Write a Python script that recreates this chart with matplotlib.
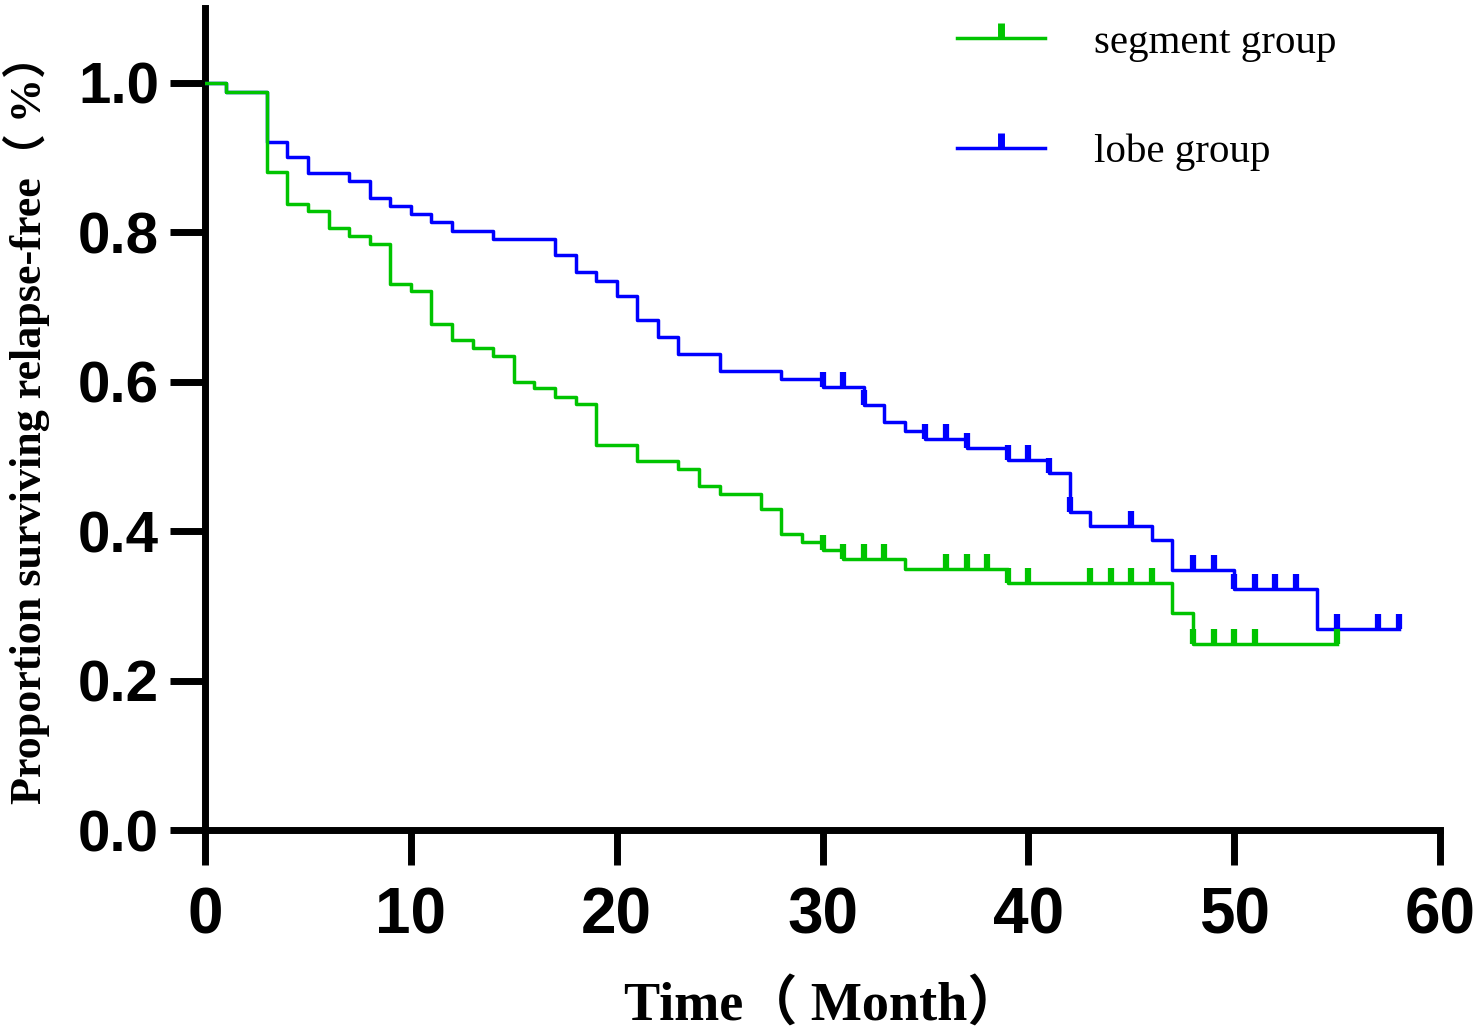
import numpy as np
import matplotlib
matplotlib.use("Agg")
import matplotlib.pyplot as plt
from matplotlib.lines import Line2D

# ---- data ----
seg_times = [0, 1, 3, 4, 5, 6, 7, 8, 9, 10, 11, 12, 13, 14, 15, 16, 17, 18, 19, 21, 23, 24, 25,
             27, 28, 29, 30, 31, 34, 39, 47, 48]
seg_surv = [1.0, 0.988, 0.881, 0.838, 0.828, 0.805, 0.795, 0.784, 0.730, 0.721, 0.677, 0.656,
            0.645, 0.634, 0.599, 0.591, 0.580, 0.570, 0.515, 0.494, 0.483, 0.461, 0.449,
            0.430, 0.396, 0.385, 0.375, 0.363, 0.349, 0.331, 0.290, 0.249]
seg_end = 55
seg_censor = [30, 31, 32, 33, 36, 37, 38, 39, 40, 43, 44, 45, 46, 48, 49, 50, 51, 55]

lobe_times = [0, 1, 3, 4, 5, 7, 8, 9, 10, 11, 12, 14, 17, 18, 19, 20, 21, 22, 23, 25, 28, 30,
              32, 33, 34, 35, 37, 39, 41, 42, 43, 46, 47, 50, 54]
lobe_surv = [1.0, 0.988, 0.921, 0.901, 0.879, 0.869, 0.846, 0.835, 0.825, 0.813, 0.802, 0.791,
             0.770, 0.747, 0.735, 0.715, 0.683, 0.660, 0.637, 0.614, 0.603, 0.593,
             0.569, 0.546, 0.534, 0.523, 0.511, 0.495, 0.478, 0.426, 0.407, 0.388, 0.348,
             0.323, 0.269]
lobe_end = 58
lobe_censor = [30, 31, 32, 35, 36, 37, 39, 40, 41, 42, 45, 48, 49, 50, 51, 52, 53, 55, 57, 58]

labels = ["segment group", "lobe group"]
colors = ["#00c400", "#0000ff"]
x_ticks = [0, 10, 20, 30, 40, 50, 60]
y_ticks = [0.0, 0.2, 0.4, 0.6, 0.8, 1.0]

# ---- figure ----
fig = plt.figure(figsize=(14.76, 10.33), dpi=100)
ax = fig.add_axes([205/1476, 1 - 830/1033, (1440-205)/1476, (830-8)/1033])

def step_at(times, surv, t):
    idx = np.searchsorted(times, t, side="right") - 1
    return np.asarray(surv)[idx]

series = [(seg_times, seg_surv, seg_end, seg_censor), (lobe_times, lobe_surv, lobe_end, lobe_censor)]
for i in [1, 0]:
    times, surv, end, cens = series[i]
    tt = list(times) + [end]
    ss = list(surv) + [surv[-1]]
    ax.step(tt, ss, where="post", color=colors[i], lw=2.5, zorder=3 + (1 - i))
    cy = step_at(times, surv, cens)
    ax.plot(cens, cy, linestyle="none", marker=2, markersize=11, markeredgewidth=4.5,
            color=colors[i], zorder=3 + (1 - i))

ax.set_xlim(0, 60)
ax.set_ylim(0, 1.1)
ax.set_xticks(x_ticks)
ax.set_yticks(y_ticks)
ax.set_xticklabels([str(v) for v in x_ticks])
ax.set_yticklabels([f"{v:.1f}" for v in y_ticks])

for s in ["top", "right"]:
    ax.spines[s].set_visible(False)
for s in ["left", "bottom"]:
    ax.spines[s].set_linewidth(5)
ax.tick_params(axis="both", direction="out", width=5, length=25, color="black")
ax.tick_params(axis="y", pad=8)
ax.tick_params(axis="x", pad=16)

for lab in ax.get_xticklabels():
    lab.set_fontfamily("Liberation Sans")
    lab.set_fontweight("bold")
    lab.set_fontsize(46)
for lab in ax.get_yticklabels():
    lab.set_fontfamily("Liberation Sans")
    lab.set_fontweight("bold")
    lab.set_fontsize(42)

ax.set_xlabel("Time（ Month）", family=["Liberation Serif", "Noto Sans CJK SC"],
              fontweight="bold", fontsize=39, labelpad=24)
ax.set_ylabel("Proportion surviving relapse-free（ %）", family=["Liberation Serif", "Noto Sans CJK SC"],
              fontweight="bold", fontsize=31.8, labelpad=20)

handles = [Line2D([0], [0], color=colors[i], lw=2.5, marker=2, markersize=11,
                  markeredgewidth=5) for i in range(2)]
leg = ax.legend(handles, labels, loc="upper left", bbox_to_anchor=(957/1476, 1 - 24/1033),
                bbox_transform=fig.transFigure, frameon=False, numpoints=1,
                prop={"family": "Liberation Serif", "size": 29.5},
                handlelength=2.15, handletextpad=1.2, labelspacing=1.75, borderpad=0,
                borderaxespad=0)

fig.savefig("out.png", dpi=100)
